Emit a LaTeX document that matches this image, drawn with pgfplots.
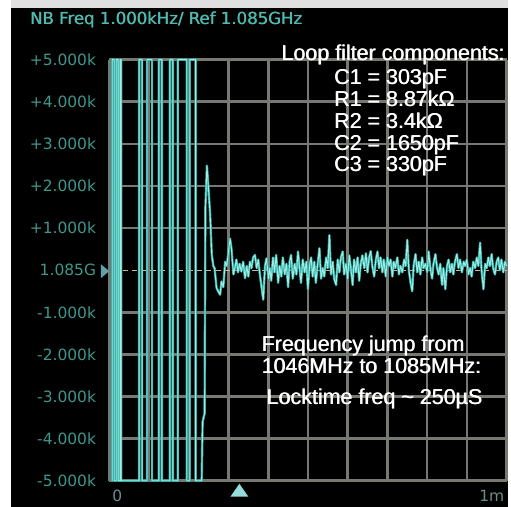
\documentclass[border=0pt]{standalone}
\usepackage{pgfplots}
\pgfplotsset{compat=1.18}
\usepackage{pgfplotstable}
\usepackage{fontspec}
\setmainfont{Liberation Sans}
\newfontfamily\scr{DejaVu Sans}

\definecolor{tealtxt}{RGB}{62,150,140}
\definecolor{titletxt}{RGB}{80,185,175}
\definecolor{gridc}{RGB}{118,120,114}
\definecolor{traceout}{RGB}{40,170,165}
\definecolor{tracein}{RGB}{165,235,225}
\definecolor{zeroc}{RGB}{225,175,165}
\definecolor{dimtxt}{RGB}{110,140,140}
\definecolor{mark1}{RGB}{100,160,170}
\definecolor{mark2}{RGB}{150,220,220}

% time in us, offset from 1.085 GHz in kHz
\pgfplotstableread{
t v
7.5 -5
7.5 5
12.5 5
12.5 -5
17.5 -5
17.5 5
22.5 5
22.5 -5
27.5 -5
27.5 5
30 5
30 -5
75 -5
75 5
82.5 5
82.5 -5
95 -5
95 5
107.5 5
107.5 -5
125 -5
125 5
132.5 5
132.5 -5
152.5 -5
152.5 5
160 5
160 -5
172.5 -5
172.5 5
195 5
195 -5
202.5 -5
202.5 5
217.5 5
217.5 -5
232.5 -5
235 -3.6
240 -3.4
242 1.5
245.8 2.48
250 1.9
254 1.3
258 0.36
262 0.1
265 0.05
270 -0.42
274 -0.5
279 -0.58
282.5 -0.27
287 -0.4
291.7 0.2
296 0.1
300 0.45
304 0.75
307.5 0.52
312.5 -0.1
316 0.05
320 0.25
324 -0.05
328 0.15
332.5 -0.03
337 0.2
341.7 -0.19
346 0.1
350 -0.15
354 0.2
358 0.05
362 0.3
366.7 0.36
371 0.05
375 0.25
379 -0.1
387.5 -0.7
392 0.1
395.8 0.28
401 -0.2
404 0.05
407.5 -0.25
412 0.3
416 -0.05
420 0.36
425 -0.3
429 0.1
433 -0.15
437 0.3
441.7 -0.1
446 0.15
450 -0.4
454 0.2
457.5 0.36
462 -0.2
466.7 0.15
471 -0.1
475 0.44
479 0.05
482.5 -0.3
487 0.25
491.7 -0.05
496 0.2
500 -0.45
504 0.1
508 0.3
512 -0.15
516 0.2
520 -0.3
524 0.1
529 0.52
533 -0.2
537.5 0.05
541 -0.15
545.8 0.3
550 0.05
554 0.83
558 -0.1
562.5 0.2
566 -0.2
570.8 -0.35
575 0.25
579 -0.05
583 0.3
587.5 0.44
591 -0.1
595.8 0.15
600 -0.2
604 0.35
608 0.05
612.5 -0.35
616 0.25
620.8 -0.05
625 0.3
629 -0.25
633 0.15
637 0.35
641.7 0.05
646 0.4
650 -0.05
654 0.3
658 0.45
662 0.1
666.7 -0.15
671 0.25
675 0.44
679 0.05
683 0.3
687.5 -0.05
691 0.25
696 -0.15
700 0.3
704 0.1
708 0.25
712.5 -0.15
716 0.2
720 0.05
725 0.3
729 -0.1
733 0.1
737.5 -0.05
742 0.25
746 0.1
750 0.72
754 0.0
758.3 -0.3
762.5 -0.5
766 0.1
770.8 0.38
775 -0.05
779 0.2
783 -0.1
787.5 0.3
791 0.05
795.8 0.15
800 -0.05
804 0.44
808 0.05
812.5 -0.2
816 0.15
820.8 0.38
825 0.05
829 -0.1
833 0.15
837.5 -0.35
841 0.05
845.8 -0.45
850 0.1
854 0.25
858 -0.05
862.5 0.15
866 -0.1
870 0.2
875 0.38
879 0.05
883 0.25
887.5 -0.05
892 0.2
895.8 0.1
900 0.25
904 -0.1
908.3 0.05
912 -0.15
916 0.2
920.8 0.05
925 0.3
929 0.1
933.3 0.65
937 0.0
941.7 -0.45
946 0.15
950 0.05
954 0.3
958 0.1
962.5 0.38
966 0.05
970.8 -0.1
975 0.2
979 0.3
983 0.0
987 0.25
991.7 -0.05
996 0.2
1000 0.1
}\trace

\begin{document}
\begin{tikzpicture}
\begin{scope}[x=0.75pt,y=-0.75pt]
  \fill[white] (0,0) rectangle (511,510);
  \fill[black!12] (11,0) rectangle (511,8);
  \fill[black] (11,8) rectangle (511,510);
  \foreach \o in {0,0.45}
    \node[anchor=base west, inner sep=0, font=\scr\fontsize{12.5}{14}\selectfont, text=titletxt]
      at (30+\o,25) {NB Freq 1.000kHz/ Ref 1.085GHz};
\end{scope}

\begin{axis}[
    at={(82.5pt,-363pt)}, anchor=south west,
    scale only axis, width=300pt, height=318pt,
    xmin=0, xmax=1000, ymin=-5, ymax=5,
    axis line style={draw=none},
    major tick length=0pt,
    xtick={0,100,...,1000}, xticklabel=\empty,
    ytick={-5,-4,...,5},
    yticklabels={-5.000k,-4.000k,-3.000k,-2.000k,-1.000k,1.085G,+1.000k,+2.000k,+3.000k,+4.000k,+5.000k},
    yticklabel style={font=\scr\fontsize{11.7}{13}\selectfont, text=tealtxt, anchor=east, inner sep=0pt, xshift=-9.75pt},
    clip=false,
  ]
  % screen graticule
  \pgfplotsinvokeforeach{0,100,200,300,400,500,600,700,800,900,1000}{
    \fill[gridc] ([xshift=-1pt]axis cs:#1,-5) rectangle ([xshift=1pt]axis cs:#1,5);
  }
  \pgfplotsinvokeforeach{-5,-4,-3,-2,-1,1,2,3,4,5}{
    \fill[gridc] ([yshift=-1pt]axis cs:0,#1) rectangle ([yshift=1pt]axis cs:1000,#1);
  }
  \draw[zeroc, line width=1pt, dash pattern=on 4pt off 3pt] (axis cs:10,0) -- (axis cs:1000,0);
  \addplot[traceout, line width=1.8pt, line join=round] table {\trace};
  \addplot[tracein, line width=0.7pt, line join=round] table {\trace};
\end{axis}

\begin{scope}[x=0.75pt,y=-0.75pt]
  \fill[mark1] (101.5,266) -- (110,273) -- (101.5,280) -- cycle;
  \fill[mark2] (232,500) -- (241,487) -- (250,500) -- cycle;
  \node[font=\scr\fontsize{11.7}{13}\selectfont, text=dimtxt, inner sep=0, anchor=base] at (118,505) {0};
  \node[font=\scr\fontsize{11.7}{13}\selectfont, text=dimtxt, inner sep=0, anchor=base east] at (508,505) {1m};
  % white annotations, set twice with a small offset to thicken the strokes
  \foreach \o in {0,0.6} {
  \begin{scope}[xshift=\o*0.75pt, every node/.style={text=white, inner sep=0, anchor=base west, font=\fontsize{16.2}{17}\selectfont}]
    \node at (283,61) {Loop filter components:};
    \node at (336,85) {C1 = 303pF};
    \node at (336,107) {R1 = 8.87kΩ};
    \node at (336,129) {R2 = 3.4kΩ};
    \node at (336,152) {C2 = 1650pF};
    \node at (336,173) {C3 = 330pF};
    \node at (263,354) {Frequency jump from};
    \node at (263,376.5) {1046MHz to 1085MHz:};
    \node at (268,407) {Locktime freq \textasciitilde{} 250µS};
  \end{scope}
  }
\end{scope}
\end{tikzpicture}
\end{document}
